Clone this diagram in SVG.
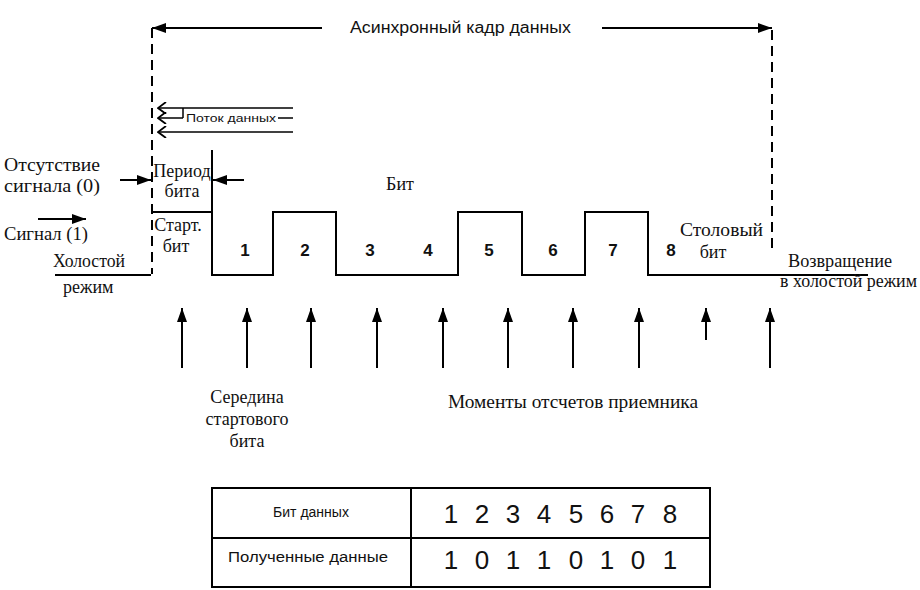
<svg xmlns="http://www.w3.org/2000/svg" width="920" height="590" viewBox="0 0 920 590">
<defs>
<style>
.ln{stroke:#000;stroke-width:2;fill:none}
.th{stroke:#000;stroke-width:1.5;fill:none}
.ds{stroke:#000;stroke-width:2;fill:none;stroke-dasharray:10 6}
.sr{font-family:"Liberation Serif","Times New Roman",serif;font-size:18px;fill:#111}
.ss{font-family:"Liberation Sans",Arial,sans-serif;fill:#111}
.num{font-family:"Liberation Sans",Arial,sans-serif;font-size:17px;font-weight:bold;fill:#111;text-anchor:middle}
.dg{font-family:"Liberation Sans",Arial,sans-serif;font-size:26px;fill:#111;text-anchor:middle}
</style>
<marker id="tri" viewBox="0 0 14 10" refX="14" refY="5" markerWidth="14" markerHeight="10" markerUnits="userSpaceOnUse" orient="auto">
<path d="M0,0 L14,5 L0,10 z" fill="#000"/>
</marker>
<marker id="open" viewBox="0 0 10 12" refX="9" refY="6" markerWidth="10" markerHeight="12" markerUnits="userSpaceOnUse" orient="auto">
<path d="M1,0 L9,6 L1,12" fill="none" stroke="#000" stroke-width="1.8"/>
</marker>
</defs>
<rect width="920" height="590" fill="#fff"/>

<g id="connectors">
<line class="ln" x1="322" y1="28" x2="152" y2="28" marker-end="url(#tri)"/>
<line class="ln" x1="602" y1="28" x2="772" y2="28" marker-end="url(#tri)"/>
<line class="ds" x1="152" y1="28" x2="152" y2="274"/>
<line class="ds" x1="772" y1="30" x2="772" y2="250"/>
<line class="th" x1="293" y1="108" x2="158" y2="108" marker-end="url(#open)"/>
<line class="th" x1="183" y1="108" x2="183" y2="118"/>
<line class="th" x1="183" y1="118" x2="158" y2="118" marker-end="url(#open)"/>
<line class="th" x1="293" y1="118" x2="278" y2="118"/>
<line class="th" x1="293" y1="132" x2="158" y2="132" marker-end="url(#open)"/>
<line class="ln" x1="212" y1="150" x2="212" y2="212"/>
<line class="ln" x1="120" y1="180" x2="151" y2="180" marker-end="url(#tri)"/>
<line class="ln" x1="244" y1="180" x2="213" y2="180" marker-end="url(#tri)"/>
<line class="ln" x1="38" y1="219" x2="86" y2="219" marker-end="url(#tri)"/>
<line class="ln" x1="55" y1="275" x2="151" y2="275"/>
<polyline class="ln" points="152,212 212,212 212,275 273,275 273,212 336,212 336,275 458,275 458,212 522,212 522,275 585,275 585,212 648,212 648,275 868,275"/>
<g>
<line class="ln" x1="182" y1="368" x2="182" y2="308" marker-end="url(#tri)"/>
<line class="ln" x1="247" y1="368" x2="247" y2="308" marker-end="url(#tri)"/>
<line class="ln" x1="311" y1="368" x2="311" y2="308" marker-end="url(#tri)"/>
<line class="ln" x1="377" y1="368" x2="377" y2="308" marker-end="url(#tri)"/>
<line class="ln" x1="443" y1="368" x2="443" y2="308" marker-end="url(#tri)"/>
<line class="ln" x1="508" y1="368" x2="508" y2="308" marker-end="url(#tri)"/>
<line class="ln" x1="573" y1="368" x2="573" y2="308" marker-end="url(#tri)"/>
<line class="ln" x1="639" y1="368" x2="639" y2="308" marker-end="url(#tri)"/>
<line class="ln" x1="706" y1="340" x2="706" y2="308" marker-end="url(#tri)"/>
<line class="ln" x1="770" y1="368" x2="770" y2="308" marker-end="url(#tri)"/>
</g>
</g>

<g id="labels">
<text class="ss" x="350" y="33" font-size="16" textLength="221" lengthAdjust="spacingAndGlyphs">Асинхронный кадр данных</text>
<text class="ss" x="186" y="122" font-size="11" textLength="90" lengthAdjust="spacingAndGlyphs">Поток данных</text>
<text class="sr" x="4" y="171" textLength="96" lengthAdjust="spacingAndGlyphs">Отсутствие</text>
<text class="sr" x="4" y="192" textLength="96" lengthAdjust="spacingAndGlyphs">сигнала (0)</text>
<text class="sr" x="182" y="177" text-anchor="middle" font-size="17">Период</text>
<text class="sr" x="182" y="197" text-anchor="middle" font-size="17">бита</text>
<text class="sr" x="400" y="190" text-anchor="middle" font-size="17">Бит</text>
<text class="sr" x="4" y="240" textLength="84" lengthAdjust="spacingAndGlyphs">Сигнал (1)</text>
<text class="sr" x="178" y="231" text-anchor="middle" font-size="16">Старт.</text>
<text class="sr" x="176" y="252" text-anchor="middle" font-size="16">бит</text>
<text class="sr" x="53" y="267" textLength="72" lengthAdjust="spacingAndGlyphs">Холостой</text>
<text class="sr" x="63" y="293" font-size="17">режим</text>
<text class="num" x="245" y="256">1</text>
<text class="num" x="305" y="256">2</text>
<text class="num" x="370" y="256">3</text>
<text class="num" x="428" y="256">4</text>
<text class="num" x="489" y="256">5</text>
<text class="num" x="553" y="256">6</text>
<text class="num" x="613" y="256">7</text>
<text class="num" x="671" y="256">8</text>
<text class="sr" x="680" y="236" textLength="83" lengthAdjust="spacingAndGlyphs">Столовый</text>
<text class="sr" x="713" y="258" text-anchor="middle">бит</text>
<text class="sr" x="788" y="267" textLength="104" lengthAdjust="spacingAndGlyphs">Возвращение</text>
<text class="sr" x="780" y="287" textLength="137" lengthAdjust="spacingAndGlyphs">в холостой режим</text>
<text class="sr" x="247" y="403" text-anchor="middle">Середина</text>
<text class="sr" x="247" y="425" text-anchor="middle">стартового</text>
<text class="sr" x="247" y="447" text-anchor="middle">бита</text>
<text class="sr" x="448" y="408" textLength="250" lengthAdjust="spacingAndGlyphs">Моменты отсчетов приемника</text>
</g>

<g id="table">
<rect class="ln" x="212" y="488" width="498" height="99"/>
<line class="ln" x1="212" y1="538" x2="710" y2="538"/>
<line class="ln" x1="411" y1="488" x2="411" y2="587"/>
<text class="ss" x="311" y="517" font-size="14" text-anchor="middle">Бит данных</text>
<text class="ss" x="308" y="562" font-size="14" text-anchor="middle" textLength="160" lengthAdjust="spacingAndGlyphs">Полученные данные</text>
<g>
<text class="dg" x="451" y="523">1</text>
<text class="dg" x="482" y="523">2</text>
<text class="dg" x="513" y="523">3</text>
<text class="dg" x="544" y="523">4</text>
<text class="dg" x="576" y="523">5</text>
<text class="dg" x="607" y="523">6</text>
<text class="dg" x="638" y="523">7</text>
<text class="dg" x="670" y="523">8</text>
</g>
<g>
<text class="dg" x="451" y="569">1</text>
<text class="dg" x="482" y="569">0</text>
<text class="dg" x="513" y="569">1</text>
<text class="dg" x="544" y="569">1</text>
<text class="dg" x="576" y="569">0</text>
<text class="dg" x="607" y="569">1</text>
<text class="dg" x="638" y="569">0</text>
<text class="dg" x="670" y="569">1</text>
</g>
</g>
</svg>
